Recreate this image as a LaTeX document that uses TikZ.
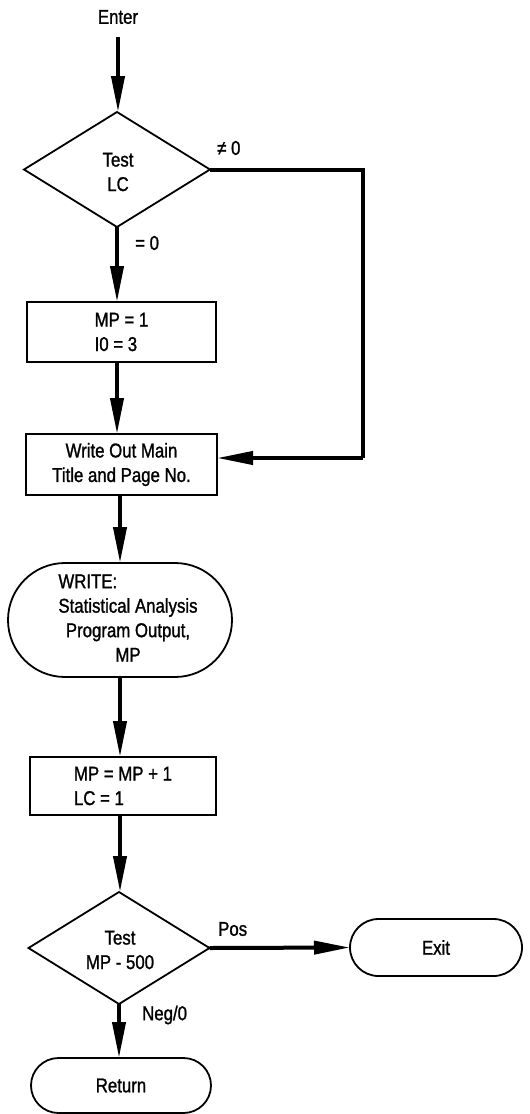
\documentclass[tikz,border=0pt]{standalone}
\usepackage{fontspec}
\setmainfont{Liberation Sans}[FakeStretch=0.84,FakeBold=1.2]
\usetikzlibrary{arrows.meta,shapes.geometric,shapes.misc}
\begin{document}
\begin{tikzpicture}[x=1pt,y=-1pt,
  font=\fontsize{20}{24.5}\selectfont,
  conn/.style={line width=4pt,-{Triangle[length=36pt,width=13pt]}},
  plain/.style={line width=4pt},
  procbox/.style={draw,line width=2.2pt,rectangle,inner sep=0pt,outer sep=0pt},
  decision/.style={draw,line width=1.8pt,diamond,aspect=1.6,inner sep=0pt,outer sep=0pt},
  terminal/.style={draw,line width=1.8pt,rounded rectangle,inner sep=0pt,outer sep=0pt},
  lbl/.style={inner sep=0pt}]
\path[use as bounding box] (0,0) rectangle (530,1114);

\node[lbl] (enter) at (118,17) {Enter};
\coordinate (start) at (118,37);

\node[decision,minimum width=186pt,minimum height=115pt] (d1) at (117,169.5) {};
\node[lbl,align=center] (d1t) at (118,172) {Test\\LC};

\node[procbox,minimum width=189pt,minimum height=60pt,align=left] (b1) at (121.5,332) {MP = 1\\I0 = 3};
\node[procbox,minimum width=191pt,minimum height=61pt,align=center] (b2) at (121.5,464.5) {Write Out Main\\Title and Page No.};

\node[terminal,minimum width=224pt,minimum height=114pt] (w) at (120,620) {};
\node[lbl] (wt) at (128,620) {\begin{tabular}{@{}c@{}}\multicolumn{1}{@{}l@{}}{WRITE:}\\Statistical Analysis\\Program Output,\\MP\end{tabular}};

\node[procbox,minimum width=186pt,minimum height=58pt,align=left] (b3) at (123,786) {MP = MP + 1\\LC = 1};

\node[decision,minimum width=181pt,minimum height=112pt] (d2) at (119,948) {};
\node[lbl,align=center] (d2t) at (120,950) {Test\\MP - 500};

\node[terminal,minimum width=172pt,minimum height=57pt] (exit) at (436,947.5) {Exit};
\node[terminal,minimum width=180pt,minimum height=55pt] (ret) at (121,1085.5) {Return};

\coordinate (c1) at (363,167);
\coordinate (c2) at (363,458);

\draw[conn] (start) -- (start |- d1.north);
\draw[conn] (d1.south) -- (d1.south |- b1.north);
\draw[plain] (d1.east) -- (d1.east -| c1) -- (c2);
\draw[conn] (c2) -- (c2 -| b2.east);
\draw[conn] (b1.south -| d1.south) -- (b2.north -| d1.south);
\draw[conn] (b2.south -| w.north) -- (w.north);
\draw[conn] (w.south) -- (w.south |- b3.north);
\draw[conn] (b3.south -| w.south) -- (d2.north -| w.south);
\draw[conn] (d2.east) -- (exit.west);
\draw[conn] (d2.south) -- (d2.south |- ret.north);

\node[lbl,anchor=west] (ne) at (217,148) {≠ 0};
\node[lbl,anchor=west] (eq) at (135,243) {= 0};
\node[lbl,anchor=west] (pos) at (218,929) {Pos};
\node[lbl,anchor=west] (neg) at (142,1015) {Neg/0};
\end{tikzpicture}
\end{document}
